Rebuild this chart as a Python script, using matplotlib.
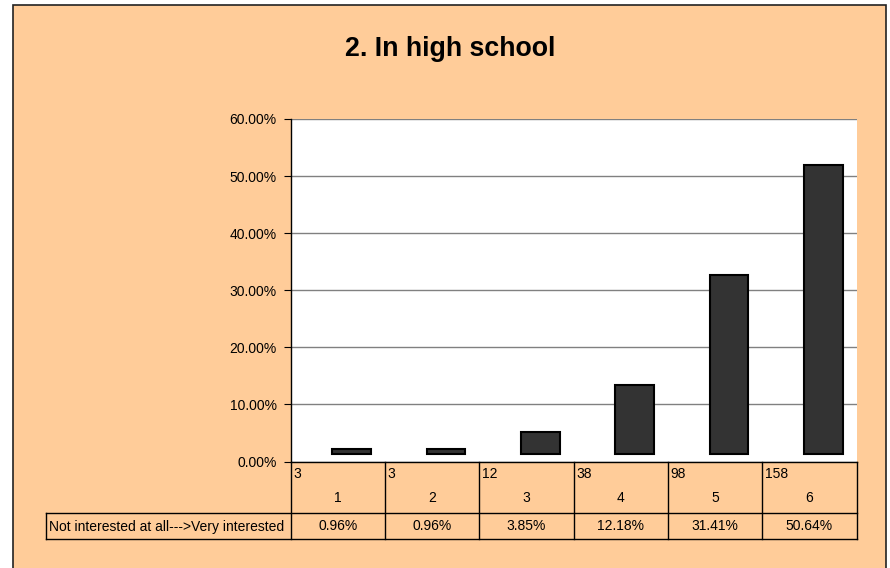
import matplotlib
matplotlib.use("Agg")
import matplotlib.pyplot as plt
from matplotlib.patches import Rectangle
from matplotlib.lines import Line2D

plt.rcParams['font.family'] = ['Liberation Sans', 'DejaVu Sans']

# ---- data ----
title = "2. In high school"
categories = ["1", "2", "3", "4", "5", "6"]
counts = ["3", "3", "12", "38", "98", "158"]
percent_labels = ["0.96%", "0.96%", "3.85%", "12.18%", "31.41%", "50.64%"]
values = [0.96, 0.96, 3.85, 12.18, 31.41, 50.64]
series_name = "Not interested at all--->Very interested"
yticks = [0, 10, 20, 30, 40, 50, 60]

W, H = 890, 568
BG = "#FFCC99"
fig = plt.figure(figsize=(W / 100, H / 100), dpi=100)
fig.patch.set_facecolor("white")

# outer chart frame
frame = Rectangle((13 / W, 0 - 0.05), (886 - 13) / W, (H - 4.5) / H + 0.05,
                  transform=fig.transFigure, facecolor=BG, edgecolor="#222222",
                  linewidth=1.2, zorder=-10)
fig.patches.append(frame)

fig.text(450.5 / W, 1 - 49 / H, title, ha="center", va="center",
         fontsize=19.3, fontweight="bold", color="black")

# plot area
left, right, top, bottom = 290.5, 856.5, 119, 461.5
ax = fig.add_axes([left / W, 1 - bottom / H, (right - left) / W, (bottom - top) / H])
ax.set_zorder(5)
ax.set_facecolor("white")
n = len(categories)
ax.set_xlim(0, n)
ax.set_ylim(yticks[0], yticks[-1])
ax.set_yticks(yticks)
ax.set_yticklabels([f"{t:.2f}%" for t in yticks], fontsize=10)
ax.tick_params(axis="y", length=5, width=0.8, color="black", pad=5)
ax.tick_params(axis="x", length=0, labelbottom=False)
ax.yaxis.grid(True, color="#808080", linewidth=1.0)
ax.set_axisbelow(True)
for s in ["top", "right"]:
    ax.spines[s].set_visible(False)
ax.spines["left"].set_color("black")
ax.spines["left"].set_linewidth(1.0)
ax.spines["bottom"].set_color("black")
ax.spines["bottom"].set_linewidth(1.0)

# bars (floating slightly above the baseline as in the original)
offset, width, base = 0.15, 0.41, 1.3
xs = [i + 0.5 + offset for i in range(n)]
ax.bar(xs, values, width=width, bottom=base, color="#333333",
       edgecolor="black", linewidth=1.5, zorder=3)

# data table below the plot
ph = bottom - top
def yfrac(py):
    return -(py - bottom) / ph

tx = ax.get_xaxis_transform()
y_row = yfrac(513)
y_end = yfrac(539)
lc = "black"
for i in range(n + 1):
    ax.add_line(Line2D([i, i], [0, y_end], transform=tx, color=lc, lw=1.0, clip_on=False))
legend_left = (45.5 - left) / (right - left)
ax.add_line(Line2D([legend_left, 1], [y_row, y_row], transform=ax.transAxes,
                   color=lc, lw=1.0, clip_on=False))
ax.add_line(Line2D([legend_left, 1], [y_end, y_end], transform=ax.transAxes,
                   color=lc, lw=1.0, clip_on=False))
ax.add_line(Line2D([legend_left, legend_left], [y_row, y_end], transform=ax.transAxes,
                   color=lc, lw=1.0, clip_on=False))

fs = 10
for i in range(n):
    ax.text(i + 0.03, yfrac(474.5), counts[i], transform=tx, ha="left", va="center",
            fontsize=fs, clip_on=False)
    ax.text(i + 0.5, yfrac(498.5), categories[i], transform=tx, ha="center", va="center",
            fontsize=fs, clip_on=False)
    ax.text(i + 0.5, yfrac(526.5), percent_labels[i], transform=tx, ha="center", va="center",
            fontsize=fs, clip_on=False)
ax.text(legend_left + 0.006, yfrac(526.5), series_name, transform=ax.transAxes,
        ha="left", va="center", fontsize=fs, clip_on=False)

fig.savefig("out.png", dpi=100, facecolor=fig.get_facecolor())
